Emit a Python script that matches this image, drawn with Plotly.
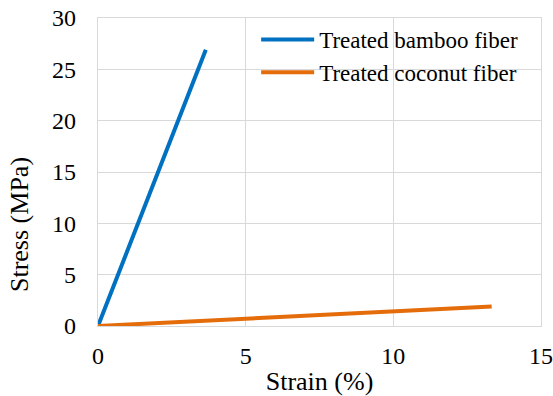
import plotly.graph_objects as go

bamboo_strain = [0, 3.65]
bamboo_stress = [0, 26.9]
coconut_strain = [0, 13.33]
coconut_stress = [0, 1.9]

x_ticks = [0, 5, 10, 15]
y_ticks = [0, 5, 10, 15, 20, 25, 30]

FONT = "Liberation Serif, Times New Roman, serif"
GRID = "#D9D9D9"

fig = go.Figure()
fig.add_trace(go.Scatter(x=bamboo_strain, y=bamboo_stress, mode="lines",
                         name="Treated bamboo fiber", legendgroup="a",
                         line=dict(color="#0070C0", width=4)))
fig.add_trace(go.Scatter(x=coconut_strain, y=coconut_stress, mode="lines",
                         name="Treated coconut fiber", legendgroup="b",
                         line=dict(color="#E46C0A", width=4)))

fig.update_layout(
    width=553, height=396,
    margin=dict(l=98, r=12, t=18, b=70),
    paper_bgcolor="white", plot_bgcolor="white",
    font=dict(family=FONT, size=23, color="black"),
    legend=dict(x=0.357, y=1.0, xanchor="left", yanchor="top",
                bgcolor="rgba(0,0,0,0)", font=dict(family=FONT, size=23, color="black"),
                tracegroupgap=0, traceorder="grouped", itemwidth=53),
    xaxis=dict(range=[0, 15], tickvals=x_ticks, showgrid=True, gridcolor=GRID,
               gridwidth=1.3, zeroline=False, showline=True, mirror=True,
               linecolor=GRID, linewidth=1.3, ticks="", ticklabelstandoff=8,
               automargin=False,
               tickfont=dict(family=FONT, size=24, color="black"),
               title=dict(text="Strain (%)", standoff=8,
                          font=dict(family=FONT, size=26, color="black"))),
    yaxis=dict(range=[0, 30], tickvals=y_ticks, showgrid=True, gridcolor=GRID,
               gridwidth=1.3, zeroline=False, showline=True, mirror=True,
               linecolor=GRID, linewidth=1.3, ticks="", ticklabelstandoff=16,
               automargin=False,
               tickfont=dict(family=FONT, size=24, color="black")),
    annotations=[dict(text="Stress (MPa)", textangle=-90, xref="paper", yref="paper",
                      x=-0.176, y=0.328, xanchor="center", yanchor="middle",
                      showarrow=False,
                      font=dict(family=FONT, size=26, color="black"))],
)

fig.write_html("out.html")
